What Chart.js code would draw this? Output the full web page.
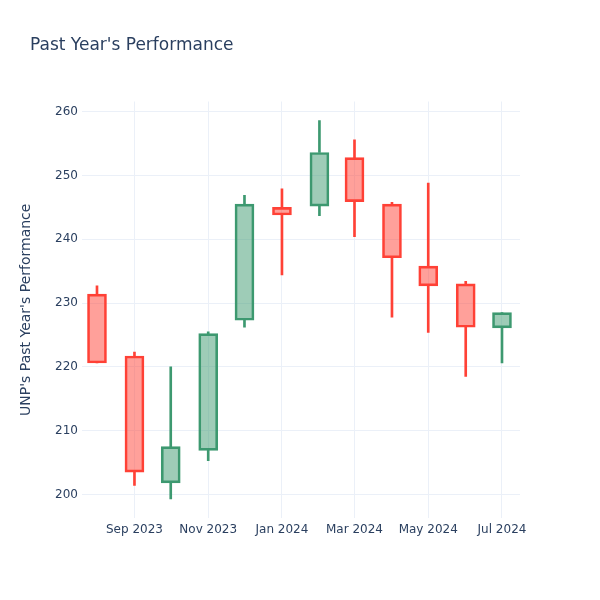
<!DOCTYPE html>
<html>
<head>
<meta charset="utf-8">
<script src="https://cdn.jsdelivr.net/npm/chart.js@4.4.1/dist/chart.umd.min.js"></script>
<style>
  body { margin: 0; background: #fff; }
  #wrap { position: relative; width: 600px; height: 600px; }
  #title {
    position: absolute; left: 30px; top: 34px;
    font: 17px "DejaVu Sans", sans-serif; color: #2a3f5f;
  }
</style>
</head>
<body>
<div id="wrap">
  <div id="title">Past Year's Performance</div>
  <canvas id="chart" width="600" height="600"></canvas>
</div>
<script>
// monthly candles, Aug 2023 .. Jul 2024
const dates = ['2023-08-01', '2023-09-01', '2023-10-01', '2023-11-01', '2023-12-01', '2024-01-01',
               '2024-02-01', '2024-03-01', '2024-04-01', '2024-05-01', '2024-06-01', '2024-07-01'];
const openVals  = [231.4, 221.7, 201.8, 206.9, 227.3, 245.0, 245.2, 252.8, 245.5, 235.8, 233.0, 226.1];
const highVals  = [232.7, 222.3, 220.0, 225.5, 246.9, 247.9, 258.6, 255.6, 245.8, 248.8, 233.4, 228.5];
const lowVals   = [220.6, 201.4, 199.3, 205.3, 226.2, 234.4, 243.7, 240.4, 227.8, 225.4, 218.5, 220.6];
const closeVals = [220.6, 203.5, 207.5, 225.2, 245.5, 243.8, 253.6, 245.9, 237.1, 232.7, 226.2, 228.5];
const tickDates  = ['2023-09-01', '2023-11-01', '2024-01-01', '2024-03-01', '2024-05-01', '2024-07-01'];
const tickLabels = ['Sep 2023', 'Nov 2023', 'Jan 2024', 'Mar 2024', 'May 2024', 'Jul 2024'];
const yTicks = [200, 210, 220, 230, 240, 250, 260];

// x is days since the first candle
const DAY = 86400000;
const t0 = Date.parse(dates[0]);
const toDay = d => Math.round((Date.parse(d) - t0) / DAY);
const xs = dates.map(toDay);
const tickXs = tickDates.map(toDay);

const UP = '#3D9970', UP_FILL = 'rgba(61,153,112,0.5)';
const DOWN = '#FF4136', DOWN_FILL = 'rgba(255,65,54,0.5)';
const isUp = i => closeVals[i] >= openVals[i];
const lineColor = ctx => isUp(ctx.dataIndex) ? UP : DOWN;
const fillColor = ctx => isUp(ctx.dataIndex) ? UP_FILL : DOWN_FILL;

const bodies = xs.map((x, i) => ({ x: x, y: [Math.min(openVals[i], closeVals[i]), Math.max(openVals[i], closeVals[i])] }));
const upperWicks = xs.map((x, i) => ({ x: x, y: [Math.max(openVals[i], closeVals[i]), highVals[i]] }));
const lowerWicks = xs.map((x, i) => ({ x: x, y: [lowVals[i], Math.min(openVals[i], closeVals[i])] }));

const wick = data => ({
  data: data, grouped: false, barThickness: 2,
  backgroundColor: lineColor, borderWidth: 0
});

new Chart(document.getElementById('chart'), {
  type: 'bar',
  data: {
    datasets: [
      wick(upperWicks),
      wick(lowerWicks),
      {
        data: bodies, grouped: false, barThickness: 19,
        backgroundColor: fillColor, borderColor: lineColor,
        borderWidth: 2, borderSkipped: false
      }
    ]
  },
  options: {
    responsive: false,
    animation: false,
    layout: { padding: { left: 18, right: 80, top: 101.5, bottom: 62 } },
    plugins: { legend: { display: false }, tooltip: { enabled: false } },
    scales: {
      x: {
        type: 'linear', min: -12.4, max: 349.9, offset: false,
        afterBuildTicks: s => { s.ticks = tickXs.map(v => ({ value: v })); },
        afterFit: s => { s.height = 20; },
        grid: { color: '#EBF0F8', drawTicks: false, offset: false },
        border: { display: false },
        ticks: {
          padding: 5, color: '#2a3f5f', maxRotation: 0, autoSkip: false,
          font: { family: 'DejaVu Sans', size: 12 },
          callback: v => tickLabels[tickXs.indexOf(v)]
        }
      },
      y: {
        min: 196.3, max: 261.6,
        afterBuildTicks: s => { s.ticks = yTicks.map(v => ({ value: v })); },
        afterFit: s => { s.width = 64; },
        grid: { color: '#EBF0F8', drawTicks: false },
        border: { display: false },
        ticks: {
          padding: 4, color: '#2a3f5f',
          font: { family: 'DejaVu Sans', size: 12 }
        },
        title: {
          display: true, text: "UNP's Past Year's Performance",
          color: '#2a3f5f', padding: 0,
          font: { family: 'DejaVu Sans', size: 14 }
        }
      }
    }
  }
});
</script>
</body>
</html>
